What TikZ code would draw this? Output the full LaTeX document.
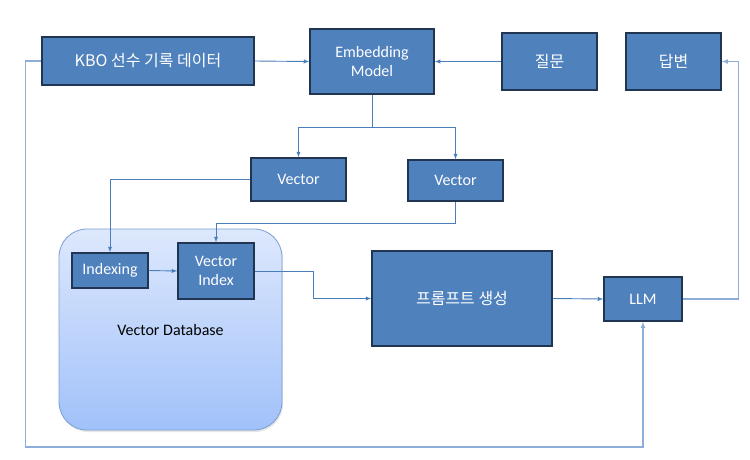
\documentclass[tikz,border=0pt]{standalone}
\usepackage{fontspec}
\setmainfont{Carlito}
\newfontfamily\krfont{Noto Sans CJK KR}
\usetikzlibrary{arrows,shadows}

\begin{document}
\begin{tikzpicture}[x=1pt,y=-1pt,>=latex,font=\fontsize{16}{19.5}\selectfont]
  % Colors
  \definecolor{boxfill}{HTML}{4F81BD}
  \definecolor{boxline}{HTML}{1F3552}
  \definecolor{linkcolor}{HTML}{4A7EBB}
  \definecolor{faintlink}{HTML}{8EAEDA}
  \definecolor{dbtop}{HTML}{DDE8FC}
  \definecolor{dbbottom}{HTML}{A1C1FA}
  \definecolor{dbline}{HTML}{7A9FD4}

  % Styles
  \tikzstyle{block}=[draw=boxline,fill=boxfill,line width=1.5pt,text=white,align=center,inner sep=2pt]
  \tikzstyle{link}=[draw=linkcolor,line width=0.9pt,->]
  \tikzstyle{faint link}=[link,draw=faintlink,line width=1.1pt]

  \useasboundingbox (0,0) rectangle (750,459);

  % The database
  \node[draw=dbline,line width=0.8pt,rounded corners=28pt,top color=dbtop,bottom color=dbbottom,
        minimum width=223pt,minimum height=201pt,
        drop shadow={opacity=0.2,shadow xshift=1pt,shadow yshift=-2pt}] (db) at (170.5,329.5) {Vector Database};

  % The blocks
  \node[block,minimum width=212pt,minimum height=48pt] (kbo) at (148,61) {\krfont KBO 선수 기록 데이터};
  \node[block,minimum width=124pt,minimum height=65pt] (embed) at (372,61.5) {Embedding\\Model};
  \node[block,minimum width=95pt,minimum height=57pt] (question) at (549.5,61.5) {\krfont 질문};
  \node[block,minimum width=95pt,minimum height=57pt] (answer) at (673.5,61.5) {\krfont 답변};
  \node[block,minimum width=95pt,minimum height=43pt] (vecA) at (298.5,179.5) {Vector};
  \node[block,minimum width=95pt,minimum height=41pt] (vecB) at (455.5,180.5) {Vector};
  \node[block,minimum width=76pt,minimum height=35pt] (indexing) at (110,270.5) {Indexing};
  \node[block,minimum width=76pt,minimum height=56pt] (vindex) at (216,271) {Vector\\Index};
  \node[block,minimum width=180pt,minimum height=95pt] (prompt) at (462,298.5) {\krfont 프롬프트 생성};
  \node[block,minimum width=78pt,minimum height=44pt] (llm) at (643,299) {LLM};

  % The connections
  \draw[link] (kbo.east) -- (embed.west);
  \draw[link] (question.west) -- (embed.east);
  \draw[link] (embed.south) -- ++(0,33) -| (vecA.north);
  \draw[link] (embed.south) -- ++(0,33) -| (vecB.north);
  \draw[link] (vecA.west) -| (indexing.north);
  \draw[link] (vecB.south) -- ++(0,22) -| (vindex.north);
  \draw[link] (indexing.east) -- (vindex.west);
  \draw[link] (vindex.east) -- ++(59,0) |- (prompt.west);
  \draw[link] (prompt.east) -- (llm.west);
  \draw[faint link] (llm.east) -- ++(56,0) |- (answer.east);
  \draw[faint link] (kbo.west) -- ++(-16,0) -- ++(0,386) -| (llm.south);
\end{tikzpicture}
\end{document}
